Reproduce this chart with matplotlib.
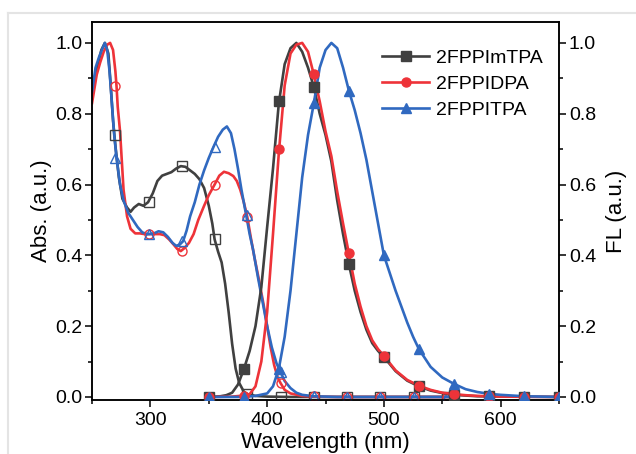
import matplotlib
matplotlib.use("Agg")
import matplotlib.pyplot as plt
from matplotlib.lines import Line2D
from matplotlib.ticker import MultipleLocator

plt.rcParams['font.family'] = ['Liberation Sans', 'DejaVu Sans']

names = ['2FPPImTPA', '2FPPIDPA', '2FPPITPA']
colors = ['#404040', '#ee3339', '#3069c0']
marks = ['s', 'o', '^']

# absorption spectra
abs_x_black = [250, 255, 258, 261, 264, 266, 268, 270, 273, 276, 280, 283, 286, 290, 294, 298,
               302, 306, 310, 314, 318, 322, 326, 330, 334, 338, 342, 346, 350, 353, 355, 358,
               361, 364, 367, 370, 373, 376, 380, 383, 390, 400, 420, 555]
abs_y_black = [0.86, 0.94, 0.98, 1.0, 0.97, 0.88, 0.78, 0.71, 0.62, 0.56, 0.535, 0.523, 0.535,
               0.545, 0.54, 0.55, 0.575, 0.61, 0.625, 0.63, 0.635, 0.645, 0.652, 0.65, 0.64,
               0.63, 0.615, 0.59, 0.54, 0.49, 0.445, 0.41, 0.38, 0.32, 0.24, 0.15, 0.08, 0.04,
               0.015, 0.008, 0.003, 0.001, 0.0, 0.0]

abs_x_red = [250, 254, 257, 260, 263, 265.5, 268, 270, 271, 272, 274, 277, 280, 283, 287, 291,
             295, 299, 304, 308, 312, 316, 320, 323, 326, 329, 333, 337, 341, 346, 350, 355,
             359, 363, 367, 371, 374, 377, 380, 383, 386, 389, 393, 397, 400, 403, 406, 409,
             411.5, 415, 420, 430, 440, 460, 555]
abs_y_red = [0.83, 0.91, 0.945, 0.975, 0.995, 1.0, 0.98, 0.92, 0.877, 0.82, 0.75, 0.585, 0.51,
             0.475, 0.462, 0.462, 0.46, 0.46, 0.46, 0.46, 0.457, 0.445, 0.43, 0.418, 0.412,
             0.42, 0.435, 0.46, 0.5, 0.54, 0.57, 0.6, 0.625, 0.636, 0.632, 0.624, 0.61, 0.585,
             0.55, 0.508, 0.45, 0.396, 0.33, 0.26, 0.2, 0.14, 0.09, 0.055, 0.039, 0.02, 0.01,
             0.003, 0.001, 0.0, 0.0]

abs_x_blue = [250, 253, 256, 259, 261, 263, 265, 267, 269, 271, 274, 277, 281, 285, 289, 293,
              297, 299, 303, 307, 311, 315, 319, 322, 325, 328, 331, 334, 338, 342, 346, 350,
              354, 358, 362, 365.5, 369, 372, 375, 378, 382, 385, 388, 392, 396, 400, 404, 408,
              411.5, 415, 420, 425, 430, 440, 460, 555]
abs_y_blue = [0.862, 0.93, 0.96, 0.985, 1.0, 0.98, 0.92, 0.83, 0.74, 0.675, 0.6, 0.555, 0.52,
              0.5, 0.48, 0.465, 0.46, 0.46, 0.462, 0.468, 0.465, 0.452, 0.435, 0.427, 0.43,
              0.44, 0.47, 0.51, 0.55, 0.6, 0.64, 0.675, 0.706, 0.735, 0.755, 0.764, 0.745,
              0.7, 0.645, 0.585, 0.514, 0.46, 0.415, 0.34, 0.27, 0.2, 0.14, 0.095, 0.07, 0.045,
              0.025, 0.012, 0.006, 0.002, 0.0, 0.0]

abs_mk_x = [270, 298.5, 327, 355, 383, 411.5, 440, 468.5, 497, 525.5, 554]
abs_mk_black = [0.74, 0.55, 0.652, 0.445, 0.008, 0.0, 0.0, 0.0, 0.0, 0.0, 0.0]
abs_mk_red = [0.877, 0.46, 0.412, 0.599, 0.508, 0.039, 0.002, 0.0, 0.0, 0.0, 0.0]
abs_mk_blue = [0.675, 0.46, 0.44, 0.706, 0.514, 0.07, 0.003, 0.0, 0.0, 0.0, 0.0]

# fluorescence spectra
fl_x_black = [350, 360, 365, 370, 375, 380, 385, 390, 395, 400, 405, 410, 415, 420, 425, 430,
              435, 440, 445, 450, 455, 460, 465, 470, 475, 480, 485, 490, 495, 500, 510, 520,
              530, 540, 550, 560, 570, 580, 600, 650]
fl_y_black = [0.0, 0.002, 0.005, 0.012, 0.035, 0.078, 0.13, 0.2, 0.31, 0.48, 0.645, 0.83, 0.94,
              0.985, 1.0, 0.975, 0.93, 0.875, 0.8, 0.74, 0.665, 0.555, 0.46, 0.375, 0.3, 0.24,
              0.19, 0.152, 0.13, 0.113, 0.073, 0.046, 0.03, 0.018, 0.011, 0.006, 0.004, 0.002,
              0.001, 0.0]

fl_x_red = [350, 370, 380, 385, 390, 395, 400, 405, 410, 415, 420, 425, 430, 435, 440, 445,
            450, 455, 460, 465, 470, 475, 480, 485, 490, 495, 500, 510, 520, 530, 540, 550,
            560, 570, 580, 600, 650]
fl_y_red = [0.0, 0.001, 0.004, 0.008, 0.03, 0.1, 0.24, 0.46, 0.69, 0.88, 0.97, 0.995, 1.0,
            0.975, 0.91, 0.835, 0.75, 0.68, 0.58, 0.49, 0.405, 0.32, 0.255, 0.2, 0.16, 0.135,
            0.116, 0.075, 0.048, 0.032, 0.02, 0.012, 0.008, 0.005, 0.003, 0.001, 0.0]

fl_x_blue = [350, 380, 390, 400, 405, 410, 415, 420, 425, 430, 435, 440, 445, 450, 455, 460,
             465, 470, 475, 480, 485, 490, 495, 500, 510, 515, 520, 525, 530, 540, 550, 560,
             570, 580, 590, 600, 620, 650]
fl_y_blue = [0.0, 0.0, 0.003, 0.01, 0.03, 0.08, 0.17, 0.3, 0.46, 0.62, 0.74, 0.83, 0.93, 0.98,
             1.0, 0.985, 0.93, 0.865, 0.81, 0.745, 0.67, 0.58, 0.49, 0.4, 0.3, 0.255, 0.21,
             0.17, 0.135, 0.085, 0.055, 0.037, 0.022, 0.014, 0.009, 0.006, 0.002, 0.0]

fl_mk_x = [350, 380, 410, 440, 470, 500, 530, 560, 590, 620, 650]
fl_mk_black = [0.0, 0.08, 0.836, 0.875, 0.376, 0.113, 0.03, 0.006, 0.002, 0.001, 0.0]
fl_mk_red = [0.0, 0.004, 0.70, 0.911, 0.406, 0.116, 0.032, 0.008, 0.002, 0.001, 0.0]
fl_mk_blue = [0.0, 0.0, 0.08, 0.83, 0.865, 0.40, 0.135, 0.037, 0.009, 0.002, 0.0]

abs_lines = [(abs_x_black, abs_y_black), (abs_x_red, abs_y_red), (abs_x_blue, abs_y_blue)]
abs_marks = [abs_mk_black, abs_mk_red, abs_mk_blue]
fl_lines = [(fl_x_black, fl_y_black), (fl_x_red, fl_y_red), (fl_x_blue, fl_y_blue)]
fl_marks = [fl_mk_black, fl_mk_red, fl_mk_blue]

fig = plt.figure(figsize=(6.36, 4.54), dpi=100)
ax = fig.add_axes([0.1447, 0.119, 0.879 - 0.1447, 0.9515 - 0.119])
ax2 = ax.twinx()

lw = 1.9
for i in range(3):
    x, y = abs_lines[i]
    ax.plot(x, y, color=colors[i], lw=lw, zorder=2)
    ax.plot(abs_mk_x, abs_marks[i], ls='none', marker=marks[i], ms=6.5,
            mfc='none', mec=colors[i], mew=1.0, zorder=3)
for i in range(3):
    x, y = fl_lines[i]
    ax2.plot(x, y, color=colors[i], lw=lw, zorder=2)
    ax2.plot(fl_mk_x, fl_marks[i], ls='none', marker=marks[i], ms=6.5,
             mfc=colors[i], mec=colors[i], zorder=3)

for a in (ax, ax2):
    a.set_xlim(250, 650)
    a.set_ylim(-0.0085, 1.059)
    a.yaxis.set_major_locator(MultipleLocator(0.2))
    a.yaxis.set_minor_locator(MultipleLocator(0.1))
    a.tick_params(which='major', direction='out', length=5, width=1.1, labelsize=14, pad=2)
    a.tick_params(which='minor', direction='out', length=3, width=1.1)
    for s in a.spines.values():
        s.set_linewidth(1.1)

ax.xaxis.set_major_locator(MultipleLocator(100))
ax.xaxis.set_minor_locator(MultipleLocator(50))
ax.yaxis.set_major_formatter(plt.FormatStrFormatter('%.1f'))
ax2.yaxis.set_major_formatter(plt.FormatStrFormatter('%.1f'))
ax.tick_params(axis='x', which='both', top=False)
ax.tick_params(axis='x', which='major', pad=4)

ax.set_xlabel('Wavelength (nm)', fontsize=16, labelpad=2)
ax.set_ylabel('Abs. (a.u.)', fontsize=16, labelpad=2)
ax2.set_ylabel('FL (a.u.)', fontsize=16, labelpad=7)

handles = [Line2D([], [], color=colors[i], lw=lw, marker=marks[i], ms=6.5,
                  mfc=colors[i], mec=colors[i]) for i in range(3)]
ax2.legend(handles, names, loc='upper right', bbox_to_anchor=(0.99, 0.958), frameon=False,
           fontsize=14, handlelength=2.4, handletextpad=0.35, labelspacing=0.42,
           borderaxespad=0.2)

# light frame lines of the original screenshot
fig.add_artist(Line2D([8 / 636, 1], [1 - 13 / 454, 1 - 13 / 454], color='#e4e4e4', lw=1.5))
fig.add_artist(Line2D([8 / 636, 8 / 636], [0, 1 - 13 / 454], color='#e4e4e4', lw=1.5))

fig.savefig('out.png', dpi=100)
